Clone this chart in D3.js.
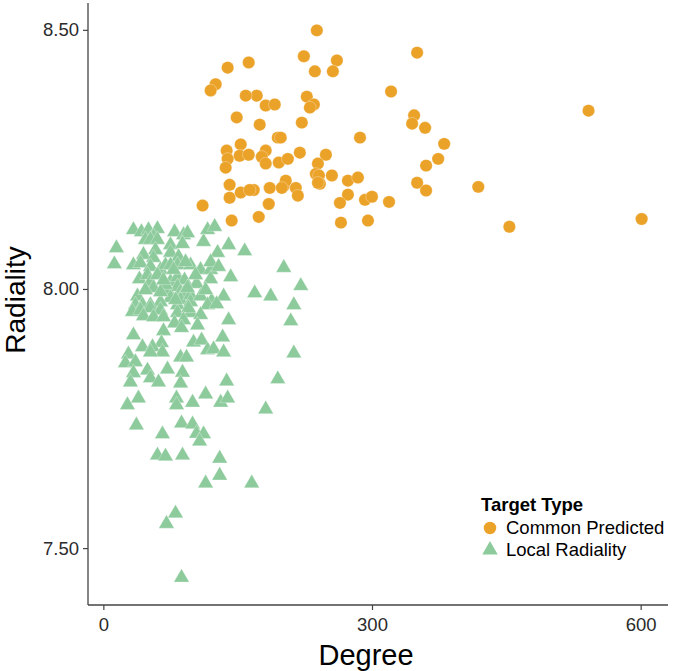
<!DOCTYPE html>
<html>
<head>
<meta charset="utf-8">
<script src="https://cdn.jsdelivr.net/npm/d3@7"></script>
<style>
  html, body { margin: 0; padding: 0; background: #fff; }
  svg { display: block; font-family: "Liberation Sans", Arial, Helvetica, sans-serif; }
</style>
</head>
<body>
<svg id="chart" width="675" height="671"></svg>
<script>
// ---------------- DATA ----------------
const seriesNames = ["Common Predicted", "Local Radiality"];
const xTicks = [0, 300, 600];
const yTicks = [7.5, 8.0, 8.5];

const commonDegree = [238.4,350.4,223.9,260.8,162.3,236.2,256.3,321.3,171.3,181.3,191.4,227.2,235.1,230.6,347.0,344.8,359.3,174.6,221.6,194.8,198.1,286.6,380.6,373.9,360.4,181.3,176.9,181.3,195.9,206.0,219.4,248.5,239.6,237.3,240.7,241.8,239.6,255.2,273.1,284.3,350.4,360.4,167.9,185.8,201.5,203.7,199.3,214.9,217.2,273.1,264.2,292.2,300.0,319.0,184.7,173.5,265.3,295.5,541.8,601.1,453.4,418.7,138.8,125.4,119.8,159.0,148.9,137.7,138.8,136.6,153.4,152.2,162.3,141.0,141.0,153.4,163.4,110.8,143.3];
const commonRadiality = [8.499,8.456,8.449,8.441,8.437,8.420,8.420,8.381,8.373,8.354,8.356,8.371,8.356,8.350,8.335,8.319,8.311,8.317,8.321,8.292,8.292,8.292,8.280,8.251,8.238,8.267,8.255,8.242,8.244,8.251,8.263,8.259,8.242,8.222,8.219,8.203,8.205,8.219,8.209,8.215,8.205,8.190,8.191,8.195,8.199,8.209,8.195,8.195,8.180,8.182,8.166,8.172,8.178,8.168,8.164,8.139,8.128,8.132,8.344,8.135,8.120,8.197,8.427,8.395,8.383,8.373,8.331,8.267,8.251,8.234,8.279,8.257,8.259,8.201,8.176,8.186,8.191,8.161,8.132];

const localDegree = [33.6,42.5,50.4,60.4,56.0,79.5,89.6,94.0,116.4,124.3,14.6,47.0,52.6,60.4,75.0,88.4,111.9,139.9,157.8,44.8,58.2,75.0,84.0,127.6,56.0,12.3,33.6,41.4,52.6,63.8,69.4,75.0,82.8,97.4,108.6,119.8,119.8,128.7,201.5,40.3,49.3,52.6,60.4,75.0,82.8,90.7,104.1,119.8,142.2,220.5,56.0,71.6,82.8,86.2,89.6,169.0,186.9,38.1,75.0,86.2,97.4,97.4,108.6,120.9,134.3,63.8,116.4,126.5,35.8,43.7,52.6,82.8,212.7,32.5,41.4,52.6,63.8,44.8,56.0,67.2,82.8,97.4,95.1,108.6,89.6,139.9,209.3,79.5,105.2,87.3,33.6,67.2,133.2,100.7,109.7,64.9,43.7,54.9,116.4,123.1,134.3,66.0,28.0,52.6,86.2,92.9,212.7,24.6,35.8,49.3,71.6,88.4,33.6,52.6,61.6,30.2,86.2,137.7,194.8,39.2,26.9,81.7,81.7,99.6,114.2,131.0,138.8,181.3,36.9,66.0,87.3,99.6,104.1,111.9,107.5,60.4,69.4,88.4,129.9,129.9,114.2,165.7,80.6,70.5,87.3,69.4,78.4,94.0,63.8,103.0,47.0,114.2,67.2,91.8,80.6];
const localRadiality = [8.114,8.110,8.114,8.116,8.101,8.110,8.104,8.108,8.114,8.120,8.079,8.095,8.095,8.095,8.085,8.087,8.091,8.085,8.073,8.066,8.075,8.070,8.062,8.070,8.060,8.048,8.046,8.050,8.043,8.037,8.046,8.046,8.046,8.046,8.037,8.037,8.052,8.043,8.041,8.019,8.027,8.014,8.027,8.014,8.023,8.017,8.010,8.019,8.023,8.006,8.002,7.998,8.004,7.994,7.992,7.992,7.986,7.986,7.983,7.979,7.988,7.975,7.986,7.977,7.986,7.975,7.969,7.971,7.969,7.969,7.969,7.969,7.969,7.956,7.959,7.963,7.959,7.948,7.946,7.946,7.954,7.954,7.963,7.950,7.940,7.940,7.938,7.934,7.930,7.925,7.911,7.919,7.907,7.897,7.901,7.896,7.888,7.888,7.882,7.884,7.878,7.878,7.874,7.878,7.868,7.868,7.876,7.857,7.859,7.843,7.845,7.839,7.838,7.828,7.820,7.820,7.818,7.822,7.826,7.789,7.776,7.789,7.776,7.781,7.797,7.781,7.789,7.768,7.737,7.720,7.741,7.739,7.721,7.720,7.706,7.679,7.677,7.679,7.673,7.640,7.625,7.625,7.567,7.547,7.443,8.008,8.037,8.002,7.994,8.027,7.998,7.998,8.017,8.052,7.979];

const colors = ["#EBA229", "#8DCB9C"];

// ---------------- LAYOUT ----------------
const svg = d3.select("#chart");
const panel = { left: 88, right: 668, top: 3, bottom: 605 };

const allX = commonDegree.concat(localDegree);
const allY = commonRadiality.concat(localRadiality);
function expand(ext, f) { const d = ext[1] - ext[0]; return [ext[0] - d * f, ext[1] + d * f]; }

const x = d3.scaleLinear().domain(expand(d3.extent(allX), 0.05)).range([panel.left, panel.right]);
const y = d3.scaleLinear().domain(expand(d3.extent(allY), 0.05)).range([panel.bottom, panel.top]);

const common = commonDegree.map((d, i) => ({ x: d, y: commonRadiality[i] }));
const local = localDegree.map((d, i) => ({ x: d, y: localRadiality[i] }));

// points
const circleSym = d3.symbol().type(d3.symbolCircle).size(122);
const triSym = d3.symbol().type(d3.symbolTriangle).size(104);

svg.append("g").selectAll("path").data(common).join("path")
  .attr("d", circleSym)
  .attr("transform", d => `translate(${x(d.x)},${y(d.y)})`)
  .attr("fill", colors[0])
  .attr("stroke", "#fff").attr("stroke-opacity", 0.5).attr("stroke-width", 0.6);

svg.append("g").selectAll("path").data(local).join("path")
  .attr("d", triSym)
  .attr("transform", d => `translate(${x(d.x)},${y(d.y)})`)
  .attr("fill", colors[1])
  .attr("stroke", "#fff").attr("stroke-opacity", 0.5).attr("stroke-width", 0.6);

// axes
const xAxis = d3.axisBottom(x).tickValues(xTicks).tickSize(5).tickPadding(4).tickFormat(d3.format("d"));
const yAxis = d3.axisLeft(y).tickValues(yTicks).tickSize(5).tickPadding(4).tickFormat(d3.format(".2f"));

const gx = svg.append("g").attr("transform", `translate(0,${panel.bottom})`).call(xAxis);
const gy = svg.append("g").attr("transform", `translate(${panel.left},0)`).call(yAxis);

gx.select(".domain").attr("d", `M${panel.left},0H${panel.right}`);
gy.select(".domain").attr("d", `M0,${panel.top}V${panel.bottom}`);

[gx, gy].forEach(g => {
  g.select(".domain").attr("stroke", "#444").attr("stroke-width", 1.3);
  g.selectAll(".tick line").attr("stroke", "#444").attr("stroke-width", 1.2);
  g.selectAll(".tick text").attr("fill", "#2b2b2b").style("font-size", "18.5px")
    .style("font-family", "'Liberation Sans', Arial, sans-serif");
});
gx.selectAll(".tick text").attr("dy", "0.9em");

// axis titles
svg.append("text")
  .attr("x", (panel.left + panel.right) / 2 - 12)
  .attr("y", 665)
  .attr("text-anchor", "middle")
  .style("font-size", "29px")
  .attr("fill", "#000")
  .text("Degree");

svg.append("text")
  .attr("transform", `translate(25,${(panel.top + panel.bottom) / 2 - 4}) rotate(-90)`)
  .attr("text-anchor", "middle")
  .style("font-size", "28px")
  .attr("fill", "#000")
  .text("Radiality");

// legend
const lg = svg.append("g").attr("transform", "translate(481,0)");
lg.append("text").attr("x", 0).attr("y", 511)
  .style("font-size", "18.5px").style("font-weight", "bold").attr("fill", "#000")
  .text("Target Type");
const legItems = [
  { name: seriesNames[0], sym: circleSym, color: colors[0], cy: 528 },
  { name: seriesNames[1], sym: triSym, color: colors[1], cy: 550 }
];
legItems.forEach(it => {
  lg.append("path").attr("d", it.sym).attr("transform", `translate(9,${it.cy})`).attr("fill", it.color);
  lg.append("text").attr("x", 25).attr("y", it.cy).attr("dy", "0.35em")
    .style("font-size", "18.5px").attr("fill", "#000").text(it.name);
});
</script>
</body>
</html>
